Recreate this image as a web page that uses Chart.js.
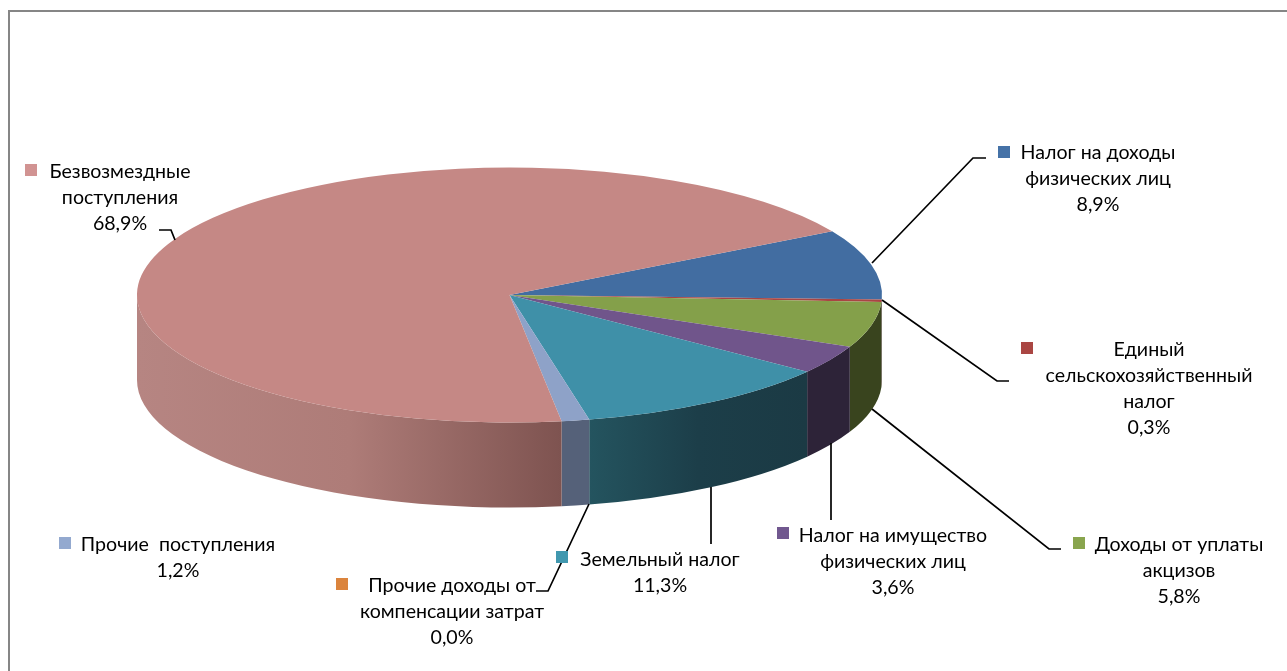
<!DOCTYPE html>
<html lang="ru">
<head>
<meta charset="utf-8">
<title>Структура доходов</title>
<script src="https://cdn.jsdelivr.net/npm/chart.js@4"></script>
<style>
  html, body { margin: 0; background: #fff; overflow: hidden; }
  canvas { display: block; }
</style>
</head>
<body>
<canvas id="pie" width="1287" height="671"></canvas>
<script>
const categories = [
  ['Налог на доходы', 'физических лиц'],
  ['Единый', 'сельскохозяйственный', 'налог'],
  ['Доходы от уплаты', 'акцизов'],
  ['Налог на имущество', 'физических лиц'],
  ['Земельный налог'],
  ['Прочие доходы от', 'компенсации затрат'],
  ['Прочие  поступления'],
  ['Безвозмездные', 'поступления'],
];
const shares = [8.9, 0.3, 5.8, 3.6, 11.3, 0.0, 1.2, 68.9];

const topColors = ['#426da1', '#a94543', '#84a04a', '#70558b', '#3f90a8', '#dc8436', '#8ea2c8', '#c58885'];
const markerColors = ['#4572a7', '#aa4643', '#89a54e', '#71588f', '#4198af', '#db843d', '#93a9cf', '#d19392'];
const wallStops = [
  ['#27405e', '#27405e'],
  ['#632826', '#632826'],
  ['#39441e', '#39441e'],
  ['#2d2338', '#2d2338'],
  ['#24545f', '#1c3e49', '#1b3a44'],
  ['#7e4c20', '#7e4c20'],
  ['#556179', '#556179'],
  ['#b68582', '#ae7c78', '#7e5350'],
];

// [markerX, markerY, textCenterX, firstLineY], leader polyline
const labelSpots = [
  [998, 146, 1098, 153],
  [1021, 342, 1149, 350],
  [1073, 537, 1179, 545],
  [777, 527, 893, 536],
  [556, 551, 660, 560],
  [336, 578, 452, 586],
  [59, 537, 178, 545],
  [25, 164, 120, 172],
];
const leaders = [
  [[872, 263], [973, 158], [986, 158]],
  [[882, 300], [997, 381], [1009, 381]],
  [[872, 409], [1049, 549], [1061, 549]],
  [[831, 443], [831, 520]],
  [[711, 487], [711, 544]],
  [[589, 504], [548, 591], [536, 591]],
  null,
  [[175, 240], [171, 230], [159, 230]],
];

const SQUASH = 127.5 / 372.5;
const DEPTH = 85;
const LINE_H = 26;

const pie3d = {
  id: 'pie3d',
  beforeDatasetsDraw(chart) {
    const { ctx } = chart;
    const arcs = chart.getDatasetMeta(0).data;
    const { x: cx, y: cy, outerRadius: rx } = arcs[0];
    const ry = rx * SQUASH;
    const TAU = Math.PI * 2;

    // front wall of each slice, only the part facing the viewer
    arcs.forEach((arc, i) => {
      [-TAU, 0, TAU].forEach((k) => {
        const lo = Math.max(arc.startAngle, k);
        const hi = Math.min(arc.endAngle, k + Math.PI);
        if (hi <= lo) return;
        const x0 = cx + rx * Math.cos(lo);
        const x1 = cx + rx * Math.cos(hi);
        const g = ctx.createLinearGradient(Math.min(x0, x1), 0, Math.max(x0, x1), 0);
        const stops = wallStops[i];
        stops.forEach((c, n) => g.addColorStop(n / (stops.length - 1), c));
        ctx.beginPath();
        ctx.ellipse(cx, cy, rx, ry, 0, lo, hi);
        ctx.ellipse(cx, cy + DEPTH, rx, ry, 0, hi, lo, true);
        ctx.closePath();
        ctx.fillStyle = g;
        ctx.fill();
      });
    });

    // squash the library's own arcs into the top ellipse
    ctx.save();
    ctx.translate(cx, cy);
    ctx.scale(1, SQUASH);
    ctx.translate(-cx, -cy);
  },
  afterDatasetsDraw(chart) {
    const { ctx } = chart;
    ctx.restore();

    // frame
    ctx.strokeStyle = '#868686';
    ctx.lineWidth = 2;
    ctx.beginPath();
    ctx.moveTo(9, 671);
    ctx.lineTo(9, 11);
    ctx.lineTo(1287, 11);
    ctx.stroke();

    // leaders
    ctx.strokeStyle = '#000';
    ctx.lineWidth = 1.7;
    leaders.forEach((pts) => {
      if (!pts) return;
      ctx.beginPath();
      pts.forEach(([x, y], n) => (n ? ctx.lineTo(x, y) : ctx.moveTo(x, y)));
      ctx.stroke();
    });

    // data labels
    ctx.font = '19.6px Lato, Carlito, sans-serif';
    ctx.textAlign = 'center';
    ctx.textBaseline = 'middle';
    categories.forEach((lines, i) => {
      const [mx, my, tx, ty] = labelSpots[i];
      ctx.fillStyle = markerColors[i];
      ctx.fillRect(mx, my, 12, 12);
      ctx.fillStyle = '#000';
      const pct = shares[i].toFixed(1).replace('.', ',') + '%';
      [...lines, pct].forEach((t, n) => ctx.fillText(t, tx, ty + n * LINE_H));
    });
  },
};

new Chart(document.getElementById('pie'), {
  type: 'pie',
  data: {
    labels: categories.map((c) => c.join(' ')),
    datasets: [{
      data: shares,
      backgroundColor: topColors,
      borderWidth: 0,
    }],
  },
  options: {
    responsive: false,
    animation: false,
    rotation: 60,
    radius: 372.5,
    layout: { padding: { right: 268, bottom: 81 } },
    events: [],
    plugins: {
      legend: { display: false },
      tooltip: { enabled: false },
    },
  },
  plugins: [pie3d],
});
</script>
</body>
</html>
